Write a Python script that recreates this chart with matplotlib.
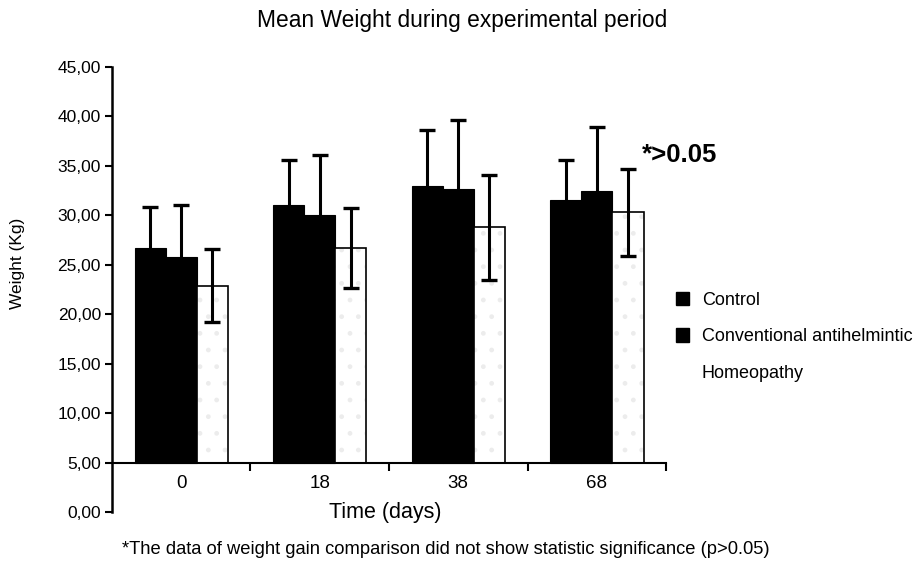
import numpy as np
import matplotlib
matplotlib.use("Agg")
from matplotlib import pyplot as plt
from matplotlib.patches import Patch
from matplotlib.ticker import FuncFormatter, FixedLocator

plt.rcParams['font.family'] = ['Liberation Sans', 'DejaVu Sans']

# data
days = ['0', '18', '38', '68']
groups = ['Control', 'Conventional antihelmintic', 'Homeopathy']
control = [26.7, 31.0, 33.0, 31.5]
control_sd = [4.1, 4.6, 5.6, 4.1]
conventional = [25.8, 30.0, 32.7, 32.5]
conventional_sd = [5.2, 6.1, 6.9, 6.4]
homeopathy = [22.9, 26.7, 28.8, 30.3]
homeopathy_sd = [3.7, 4.0, 5.3, 4.4]

base = 5.0  # bars start from the 5,00 line

fig = plt.figure(figsize=(9.18, 5.61), dpi=100)
ax = fig.add_axes([0.122, 0.0873, 0.6035, 0.7933])

x = np.arange(len(days))
w = 0.225
err_kw = dict(ecolor='black', elinewidth=2.2, capsize=5.5, capthick=2.4)

# control and conventional: solid black
for off, vals, sd in [(-w, control, control_sd), (0, conventional, conventional_sd)]:
    v = np.array(vals)
    ax.bar(x + off, v - base, w, bottom=base, color='black', edgecolor='black',
           linewidth=0.8, zorder=2)
    ax.errorbar(x + off, v, yerr=sd, fmt='none', zorder=3, **err_kw)

# homeopathy: white with faint speckle
h = np.array(homeopathy)
ax.bar(x + w, h - base, w, bottom=base, color='white', edgecolor='#ececec',
       hatch='.', linewidth=0, zorder=2)
ax.bar(x + w, h - base, w, bottom=base, color='none', edgecolor='black',
       linewidth=1.2, zorder=2)
ax.errorbar(x + w, h, yerr=homeopathy_sd, fmt='none', zorder=3, **err_kw)

ax.set_xlim(-0.5, 3.5)
ax.set_ylim(0, 45)
ax.set_yticks(np.arange(0, 46, 5))
ax.yaxis.set_major_formatter(FuncFormatter(lambda v, p: ('%.2f' % v).replace('.', ',')))
ax.tick_params(axis='y', direction='out', length=5, width=1.5, labelsize=12.5, pad=3)

# x axis drawn at the 5,00 line
ax.spines['bottom'].set_position(('data', base))
ax.spines['bottom'].set_linewidth(1.5)
ax.spines['left'].set_linewidth(1.8)
ax.spines['top'].set_visible(False)
ax.spines['right'].set_visible(False)
ax.set_xticks(x)
ax.set_xticklabels(days)
ax.xaxis.set_minor_locator(FixedLocator([0.5, 1.5, 2.5, 3.5]))
ax.tick_params(axis='x', which='major', length=0, labelsize=13.5, pad=9)
ax.tick_params(axis='x', which='minor', direction='out', length=6, width=1.5)

ax.text(0.493, 0.0, 'Time (days)', transform=ax.transAxes, ha='center', va='center',
        fontsize=15.5)

fig.text(0.503, 0.963, 'Mean Weight during experimental period', ha='center',
         va='center', fontsize=16.4)
fig.text(0.019, 0.531, 'Weight (Kg)', rotation=90, ha='center', va='center', fontsize=12.5)
fig.text(0.699, 0.724, '*>0.05', ha='left', va='center', fontsize=18.5, fontweight='bold')
fig.text(0.133, 0.021, '*The data of weight gain comparison did not show statistic '
         'significance (p>0.05)', ha='left', va='center', fontsize=13.2)

handles = [Patch(facecolor='black', edgecolor='black'),
           Patch(facecolor='black', edgecolor='black'),
           Patch(facecolor='white', edgecolor='white')]
fig.legend(handles, groups, loc='upper left', bbox_to_anchor=(0.736, 0.48),
           frameon=False, fontsize=13, handlelength=0.75, handleheight=0.75,
           handletextpad=0.7, labelspacing=1.08, borderpad=0, borderaxespad=0)

plt.savefig('out.png', dpi=100)
